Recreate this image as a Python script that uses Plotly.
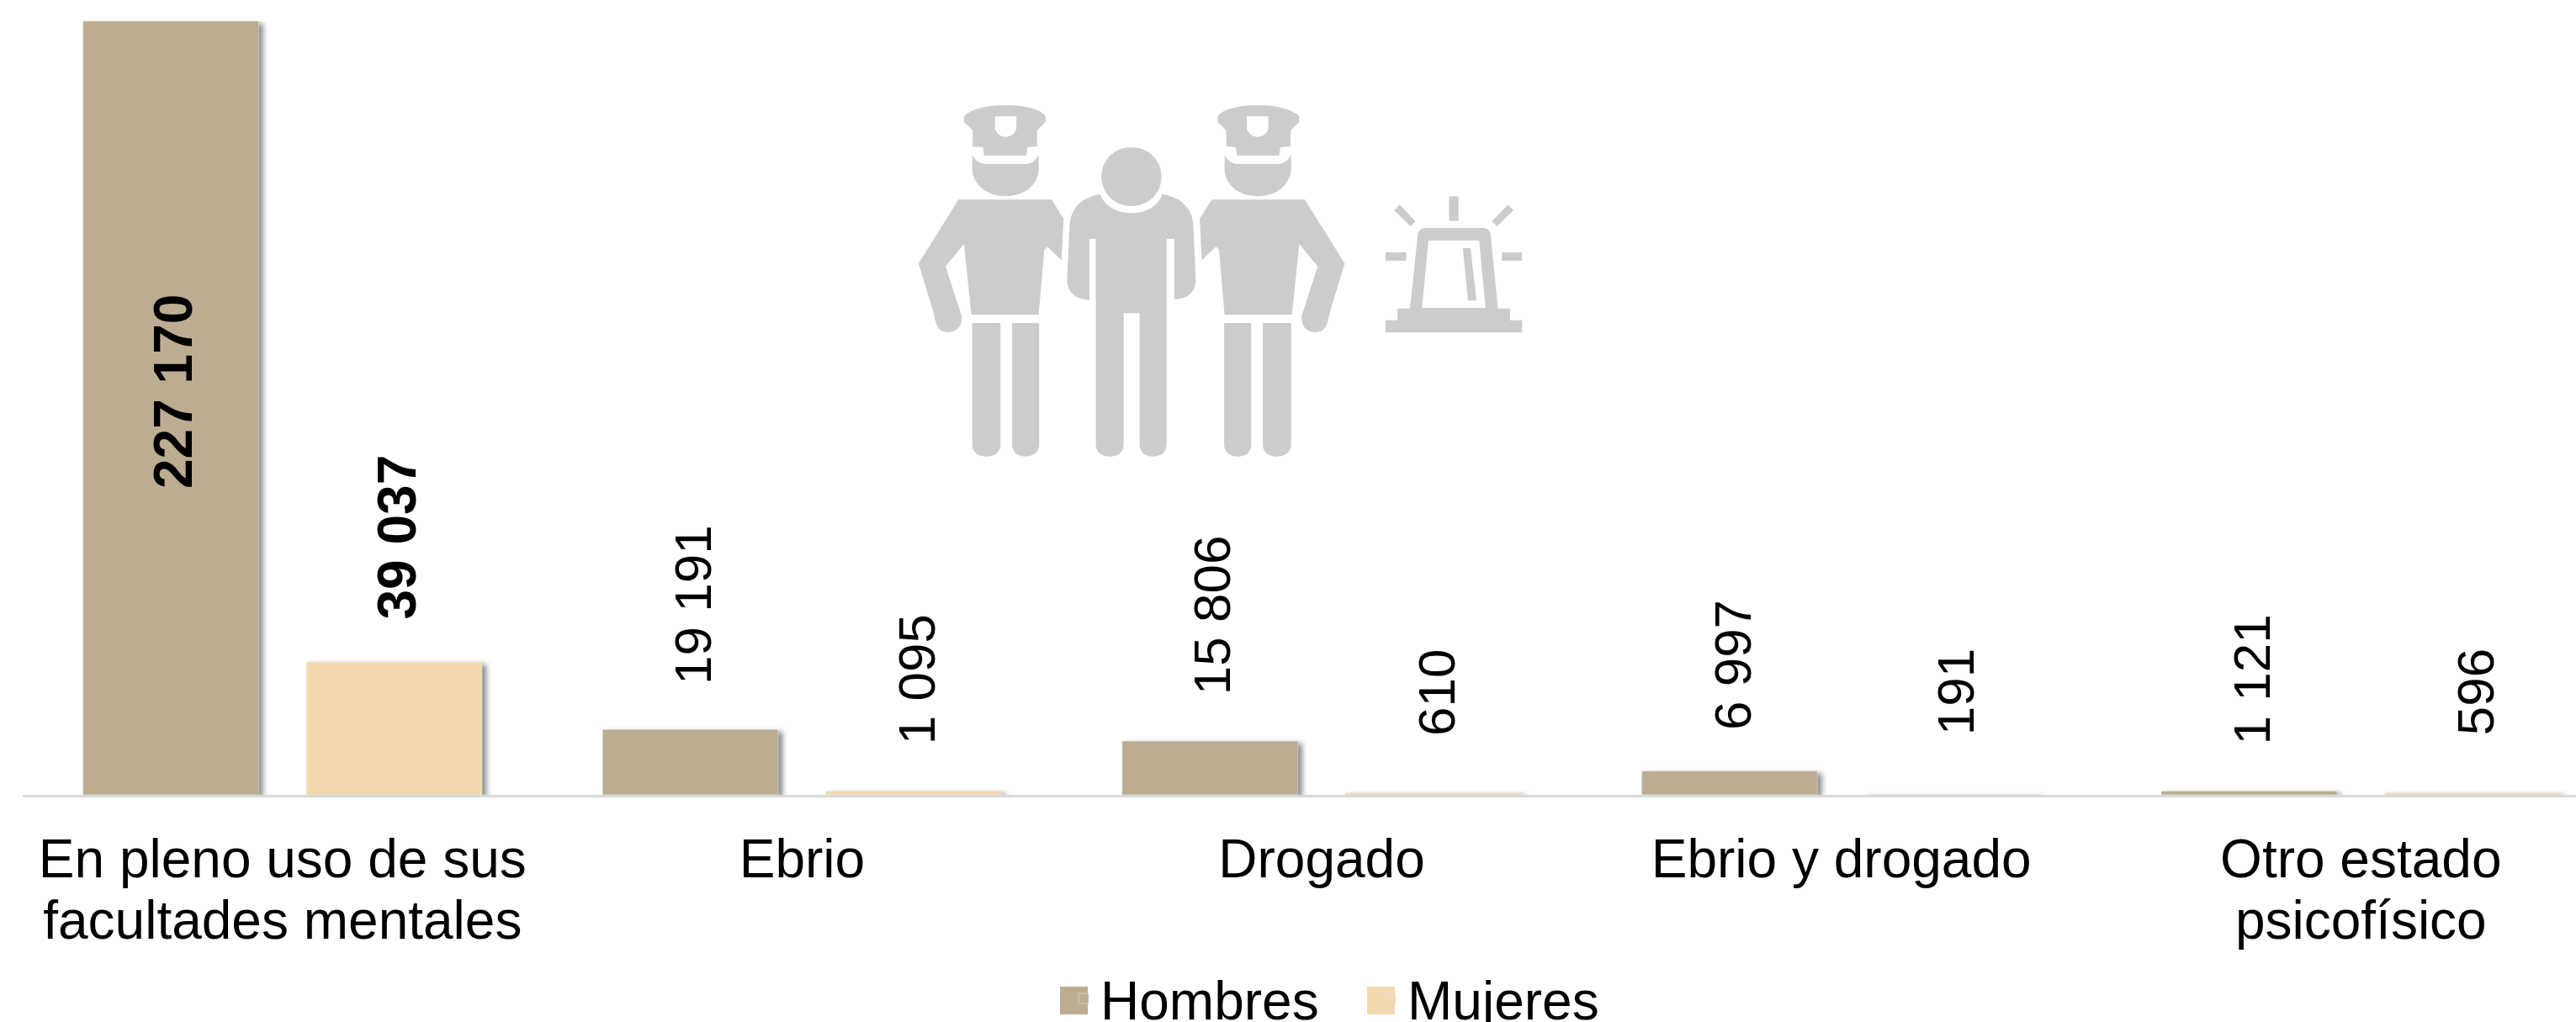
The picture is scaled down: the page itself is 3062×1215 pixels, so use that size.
import re
import plotly.graph_objects as go

categories = ["En pleno uso de sus<br>facultades mentales", "Ebrio", "Drogado",
              "Ebrio y drogado", "Otro estado<br>psicofísico"]
hombres = [227170, 19191, 15806, 6997, 1121]
mujeres = [39037, 1095, 610, 191, 596]
hombres_labels = ["227 170", "19 191", "15 806", "6 997", "1 121"]
mujeres_labels = ["39 037", "1 095", "610", "191", "596"]

W, H = 3062, 1215
L, T, R, B = 27, 25, 0, 270
PW, PH = W - L - R, H - T - B
TAN, CREAM = "#BCAD92", "#F2D9B0"
ICON = "#CCCCCC"
FONT = "Liberation Sans, Arial, sans-serif"
FS = 62
FS_AXIS = 64

fig = go.Figure()
fig.add_bar(name="Hombres", x=categories, y=hombres, marker_color=TAN, cliponaxis=False)
fig.add_bar(name="Mujeres", x=categories, y=mujeres, marker_color=CREAM, cliponaxis=False)

# value labels: gap (px) from the bar top to the foot of the rotated text
gap_h = [0, 51, 53, 47, 53]
gap_m = [48, 53, 66, 68, 66]
ann = []
for i in range(5):
    bold = i == 0
    ann.append(dict(x=i - 0.215, y=hombres[i] if i else hombres[i] / 2,
                    text=f"<b>{hombres_labels[i]}</b>" if bold else hombres_labels[i],
                    yanchor="bottom" if i else "middle", yshift=gap_h[i] if i else 19,
                    xshift=3, textangle=-90, showarrow=False,
                    font=dict(size=FS_AXIS if bold else FS, color="#000", family=FONT)))
    ann.append(dict(x=i + 0.215, y=mujeres[i],
                    text=f"<b>{mujeres_labels[i]}</b>" if bold else mujeres_labels[i],
                    yanchor="bottom", yshift=gap_m[i],
                    xshift=3, textangle=-90, showarrow=False,
                    font=dict(size=FS_AXIS if bold else FS, color="#000", family=FONT)))


# ---- decorative icon, drawn as paths in a local drawing space ----
def conv(path, mirror=None):
    def rep(m):
        x, y = float(m.group(1)), float(m.group(2))
        if mirror is not None:
            x = mirror - x
        px = 1050 + x / 1.96
        py = 100 + y / 3
        return f"{(px - L) / PW:.5f},{1 - (py - T) / PH:.5f}"
    return re.sub(r"(\d+(?:\.\d+)?),(\d+(?:\.\d+)?)", rep, path)


officer = [
    "M188,115 C205,85 250,75 285,75 C320,75 365,85 378,115 L378,135 L358,165 L358,222 L336,225 L333,255 "
    "L235,255 L232,225 L208,222 L208,165 L188,135 Z "
    "M260,115 L310,115 L310,160 C305,180 295,188 285,188 C275,188 265,180 260,160 Z",
    "M207,250 C212,270 222,285 240,285 L330,285 C348,285 357,270 362,250 L362,310 C358,365 325,400 285,400 "
    "C245,400 212,365 207,310 Z",
    "M175,412 L392,412 L420,480 L415,628 L382,580 L375,590 L362,822 L205,822 L188,570 L145,650 L182,825 "
    "C185,865 170,885 150,885 C130,885 122,865 118,820 L82,640 Z",
    "M207,852 L273,852 L273,1285 C273,1315 258,1328 240,1328 C222,1328 207,1315 207,1285 Z",
    "M300,852 L363,852 L363,1285 C363,1315 348,1328 331,1328 C314,1328 300,1315 300,1285 Z",
]
others = [
    "M578,225 C618,225 648,272 648,330 C648,388 618,435 578,435 C538,435 508,388 508,330 C508,272 538,225 578,225 Z",
    "M505,392 C515,435 545,460 578,460 C611,460 641,435 650,392 C695,405 718,440 722,500 L728,700 "
    "C728,745 705,768 678,768 L678,552 L660,552 L660,1285 C660,1315 645,1328 628,1328 C611,1328 597,1315 597,1285 "
    "L597,817 L560,817 L560,1285 C560,1315 545,1328 528,1328 C511,1328 495,1315 495,1285 L495,552 L480,552 L480,770 "
    "C450,768 428,745 428,700 L434,500 C438,440 461,405 505,392 Z",
    "M1245,540 C1246,522 1252,513 1265,513 L1395,513 C1408,513 1414,522 1415,540 L1432,800 L1460,800 L1460,842 "
    "L1488,842 L1488,886 L1170,886 L1170,842 L1198,842 L1198,800 L1227,800 Z "
    "M1270,558 L1388,558 L1403,798 L1255,798 Z",
    "M1350,585 L1368,585 L1382,772 L1362,772 Z",
    "M1318,400 L1340,400 L1340,488 L1318,488 Z",
    "M1203,430 L1240,490 L1228,507 L1190,450 Z",
    "M1455,430 L1418,490 L1430,507 L1468,450 Z",
    "M1170,600 L1218,600 L1218,630 L1170,630 Z",
    "M1441,600 L1488,600 L1488,630 L1441,630 Z",
]
shapes = []
for p in officer:
    shapes.append(conv(p))
    shapes.append(conv(p, mirror=1157))
for p in others:
    shapes.append(conv(p))
shapes = [dict(type="path", path=p, xref="paper", yref="paper", fillcolor=ICON, fillrule="evenodd",
               line=dict(width=0), layer="below") for p in shapes]


def swatch(x0, color):
    return dict(type="rect", xref="paper", yref="paper", layer="above",
                x0=(x0 - L) / PW, x1=(x0 + 33 - L) / PW,
                y0=1 - (1206 - T) / PH, y1=1 - (1173 - T) / PH,
                fillcolor=color, line=dict(width=0))


shapes += [swatch(1260, TAN), swatch(1625, CREAM)]

fig.update_layout(
    width=W, height=H, autosize=False,
    margin=dict(l=L, r=R, t=T, b=B, pad=0),
    paper_bgcolor="#FFFFFF", plot_bgcolor="rgba(0,0,0,0)",
    barmode="group", bargap=0.14, bargroupgap=0.214,
    font=dict(family=FONT, size=FS_AXIS, color="#000"),
    showlegend=True,
    legend=dict(orientation="h", xref="container", yref="container",
                x=1268 / W, xanchor="left", y=1 - 1139 / H, yanchor="top",
                font=dict(size=FS_AXIS, family=FONT, color="#000"), itemwidth=30,
                entrywidth=320, entrywidthmode="pixels",
                bgcolor="rgba(0,0,0,0)", traceorder="normal", itemclick=False, itemdoubleclick=False),
    annotations=ann, shapes=shapes,
    xaxis=dict(type="category", range=[-0.5, 4.414], showline=True, linecolor="#D9D9D9", linewidth=3,
               showgrid=False, zeroline=False, ticks="", ticklabelstandoff=18,
               tickfont=dict(size=FS_AXIS, family=FONT, color="#000")),
    yaxis=dict(range=[0, 227170], visible=False, showgrid=False, zeroline=False),
)

post = """
var st=document.createElement('style');
st.textContent='html,body{margin:0;padding:0;overflow:hidden;}.legendbar{display:none;}.barlayer .point path{filter:drop-shadow(5px 3px 3px rgba(0,0,0,0.45));}';
document.head.appendChild(st);
document.querySelectorAll('.xtick text tspan.line').forEach(function(t){
  if(parseFloat(t.getAttribute('dy'))>0) t.setAttribute('dy','73px');
});
"""
fig.write_html("out.html", post_script=post, config={"displayModeBar": False})
